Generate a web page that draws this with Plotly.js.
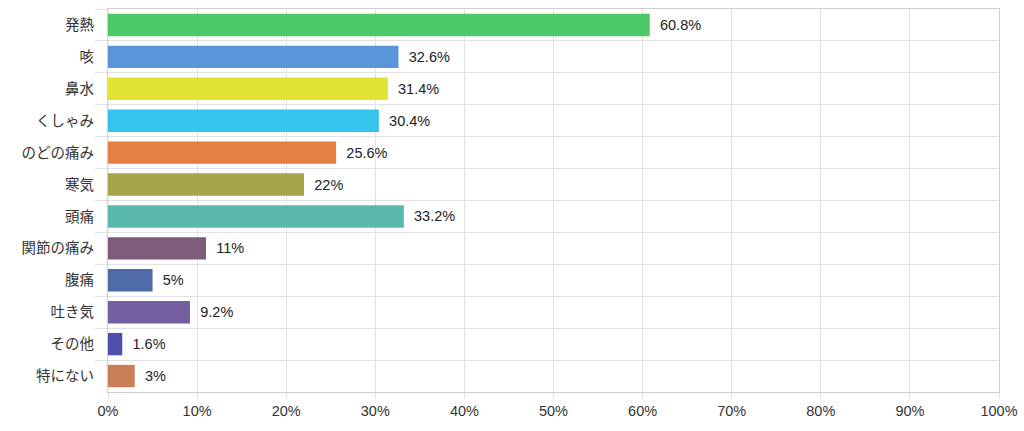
<!DOCTYPE html>
<html>
<head>
<meta charset="utf-8">
<script src="https://cdn.plot.ly/plotly-3.0.1.min.js"></script>
<style>
  html, body { margin: 0; padding: 0; background: #fff; }
  #chart { width: 1024px; height: 431px; }
</style>
</head>
<body>
<div id="chart"></div>
<script>
// data
const symptoms = ["発熱", "咳", "鼻水", "くしゃみ", "のどの痛み", "寒気", "頭痛", "関節の痛み", "腹痛", "吐き気", "その他", "特にない"];
const percents = [60.8, 32.6, 31.4, 30.4, 25.6, 22, 33.2, 11, 5, 9.2, 1.6, 3];
const barColors = ["#4dc868", "#5b95d9", "#e0e332", "#36c3ee", "#e57e42", "#a5a54a",
                   "#5bb8ac", "#7d5b7b", "#4f6aa8", "#745fa0", "#4c52ac", "#c97e55"];
const xTickVals = [0, 10, 20, 30, 40, 50, 60, 70, 80, 90, 100];
const xTickText = xTickVals.map(v => v + "%");

const fontFamily = "Liberation Sans, Arial, Noto Sans CJK JP, sans-serif";

const trace = {
    type: "bar",
    orientation: "h",
    x: percents,
    y: symptoms,
    // en space pushes the value label a little off the bar end
    text: percents.map(v => "\u2002" + v + "%"),
    textposition: "outside",
    cliponaxis: false,
    textfont: { size: 14.5, color: "#222", family: fontFamily },
    marker: { color: barColors },
    hoverinfo: "none"
};

const layout = {
    width: 1024,
    height: 431,
    margin: { l: 108, r: 25, t: 9, b: 39 },
    paper_bgcolor: "#fff",
    plot_bgcolor: "#fff",
    font: { family: fontFamily, size: 14, color: "#333" },
    bargap: 0.3,
    showlegend: false,
    xaxis: {
        range: [0, 100],
        tickvals: xTickVals,
        ticktext: xTickText,
        tickfont: { size: 14.5, color: "#333" },
        showgrid: true,
        gridcolor: "#e2e2e2",
        zeroline: false,
        ticks: "outside",
        ticklen: 6,
        tickcolor: "#e2e2e2",
        showline: true,
        linecolor: "#cfcfcf",
        mirror: true,
        fixedrange: true
    },
    yaxis: {
        autorange: "reversed",
        tickson: "boundaries",
        tickfont: { size: 14.5, color: "#333" },
        showgrid: true,
        gridcolor: "#e2e2e2",
        ticks: "outside",
        ticklen: 12,
        tickcolor: "#e2e2e2",
        showline: true,
        linecolor: "#cfcfcf",
        mirror: true,
        ticklabelstandoff: 10,
        fixedrange: true
    }
};

Plotly.newPlot("chart", [trace], layout, { displayModeBar: false, staticPlot: true });
</script>
</body>
</html>
